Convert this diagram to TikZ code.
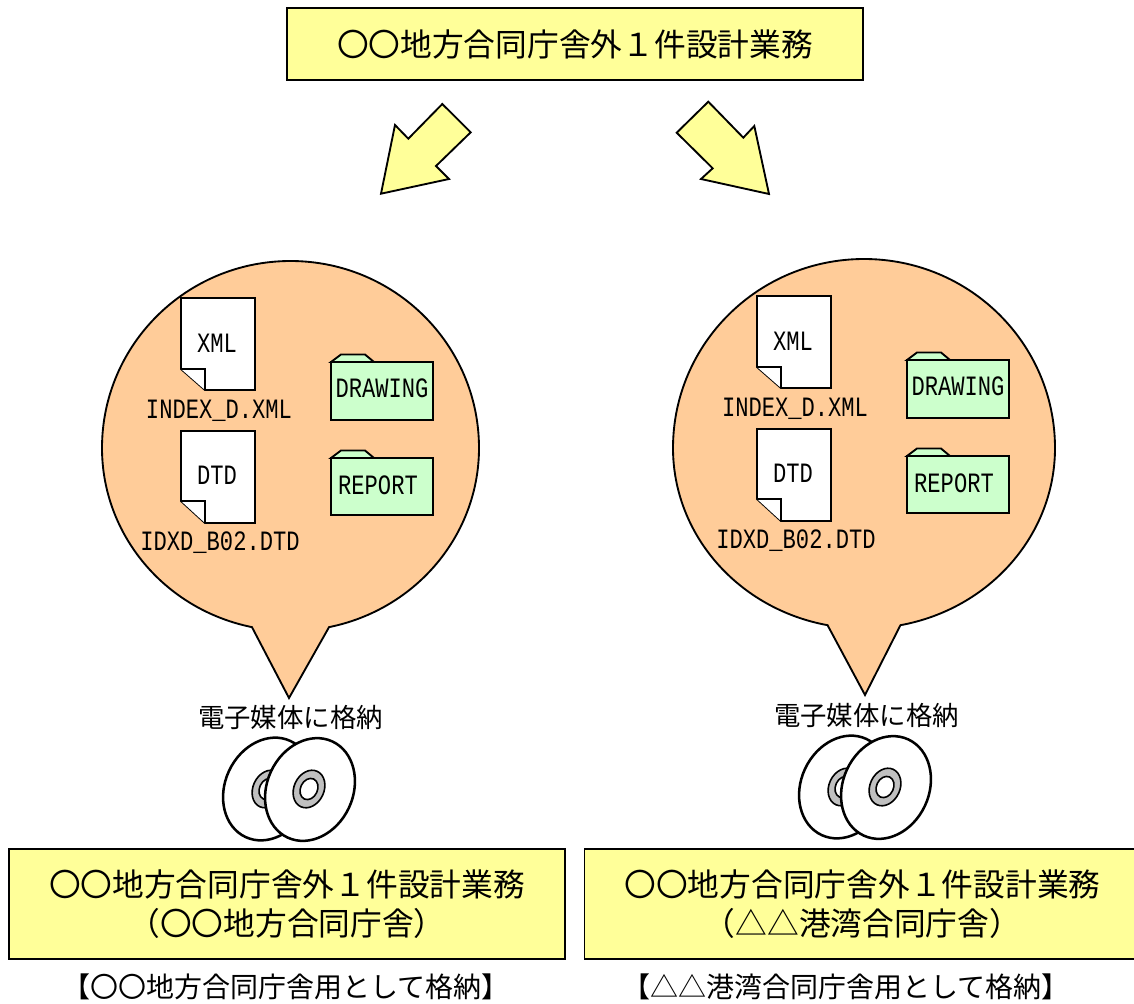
\documentclass[tikz,border=0pt]{standalone}
\usepackage{fontspec}
\setmainfont{Noto Sans CJK JP}
\newfontfamily\filefont[FakeStretch=0.79]{Liberation Mono}
\definecolor{boxyellow}{HTML}{FFFF99}
\definecolor{balloonorange}{HTML}{FFCC99}
\definecolor{foldergreen}{HTML}{CCFFCC}
\definecolor{hubgray}{HTML}{C0C0C0}
\tikzset{
    outlined/.style={draw=black,line width=1.4pt,line join=miter},
    yellowbox/.style={outlined,fill=boxyellow,inner sep=0pt,align=center,font=\fontsize{23.8}{29.2}\selectfont},
    blockarrow/.style={outlined,fill=boxyellow},
    balloon/.style={outlined,fill=balloonorange},
    docicon/.style={outlined,fill=white},
    foldericon/.style={outlined,fill=foldergreen},
    disc/.style={draw=black,line width=1.9pt,fill=white},
    hub/.style={draw=black,line width=1.2pt,fill=hubgray},
    filelabel/.style={inner sep=0pt,font=\fontsize{21}{21}\filefont},
    mediatext/.style={inner sep=0pt,font=\fontsize{19.8}{24}\selectfont},
    captiontext/.style={inner sep=0pt,font=\fontsize{21}{24}\selectfont}
}
\begin{document}
\begin{tikzpicture}[x=0.75pt,y=0.75pt]
    \useasboundingbox (0,-1003) rectangle (1134,0);
    % top box and the two arrows
    \node[yellowbox,minimum width=432pt,minimum height=54pt] (top) at (575,-44) {〇〇地方合同庁舎外１件設計業務};
    \draw[blockarrow] (442.3,-104) -- (470.7,-132.3) -- (436,-166) -- (449,-179)
        -- (381,-193.7) -- (395,-125) -- (408.3,-138.7) -- cycle;
    \draw[blockarrow] (708.3,-101.7) -- (743.3,-137.7) -- (754.3,-126) -- (769,-194)
        -- (701,-179) -- (712.7,-168.3) -- (676.7,-132.7) -- cycle;
    % balloons, the lower half a little flatter
    \draw[balloon] (290.5,-448) ++(281.8:188.5 and 183)
        arc[start angle=281.8,end angle=360,x radius=188.5,y radius=183]
        arc[start angle=0,end angle=180,x radius=188.5,y radius=187]
        arc[start angle=180,end angle=258.2,x radius=188.5,y radius=183]
        -- (289,-698) -- cycle;
    \draw[balloon] (864,-448) ++(281:191 and 180.5)
        arc[start angle=281,end angle=360,x radius=191,y radius=180.5]
        arc[start angle=0,end angle=180,x radius=191,y radius=189]
        arc[start angle=180,end angle=259,x radius=191,y radius=180.5]
        -- (865,-695) -- cycle;
    % contents, same on both sides
    \foreach \side/\dx/\dy in {l/0/0,r/576/2}{
        \begin{scope}[shift={(\dx,\dy)}]
            \draw[docicon] (181,-298) -- (255,-298) -- (255,-390) -- (205,-390) -- (181,-369) -- cycle;
            \draw[docicon] (181,-369) -- (205,-369) -- (205,-390);
            \node[filelabel] (xml\side) at (217,-343) {XML};
            \node[filelabel] (xmlname\side) at (219,-411) {INDEX\_D.XML};
            \draw[docicon] (181,-431) -- (255,-431) -- (255,-523) -- (205,-523) -- (181,-501) -- cycle;
            \draw[docicon] (181,-501) -- (205,-501) -- (205,-523);
            \node[filelabel] (dtd\side) at (217,-475) {DTD};
            \node[filelabel] (dtdname\side) at (220,-543) {IDXD\_B02.DTD};
            \draw[foldericon] (331,-362) -- (341,-354.5) -- (365,-354.5) -- (374,-362) -- cycle;
            \draw[foldericon] (331,-362) rectangle (433,-420);
            \node[filelabel] (drawing\side) at (382,-388) {DRAWING};
            \draw[foldericon] (331,-458) -- (341,-450.5) -- (365,-450.5) -- (374,-458) -- cycle;
            \draw[foldericon] (331,-458) rectangle (433,-515);
            \node[filelabel] (report\side) at (378,-485) {REPORT};
            \node[mediatext] (media\side) at (290.5,-717) {電子媒体に格納};
            % back disc, then front disc
            \draw[disc,rotate around={-25:(268,-789)}] (268,-789) ellipse [x radius=43,y radius=53];
            \draw[hub,rotate around={-25:(268,-789)}] (268,-789) ellipse [x radius=15,y radius=19.5];
            \draw[hub,fill=white,rotate around={-25:(268,-789)}] (268,-789) ellipse [x radius=8.5,y radius=11];
            \draw[disc,rotate around={-25:(310,-789.5)}] (310,-789.5) ellipse [x radius=43,y radius=53];
            \draw[hub,rotate around={-25:(309,-789)}] (309,-789) ellipse [x radius=15,y radius=19.5];
            \draw[hub,fill=white,rotate around={-25:(309,-789)}] (309,-789) ellipse [x radius=8.5,y radius=11];
        \end{scope}
    }
    % bottom boxes
    \node[yellowbox,minimum width=417pt,minimum height=82.5pt] (boxl) at (287,-904) {〇〇地方合同庁舎外１件設計業務\\（〇〇地方合同庁舎）};
    \node[yellowbox,minimum width=417pt,minimum height=82.5pt] (boxr) at (862.5,-904) {〇〇地方合同庁舎外１件設計業務\\（△△港湾合同庁舎）};
    \node[captiontext] (captionl) at (286,-987) {【〇〇地方合同庁舎用として格納】};
    \node[captiontext] (captionr) at (846,-987) {【△△港湾合同庁舎用として格納】};
\end{tikzpicture}
\end{document}
